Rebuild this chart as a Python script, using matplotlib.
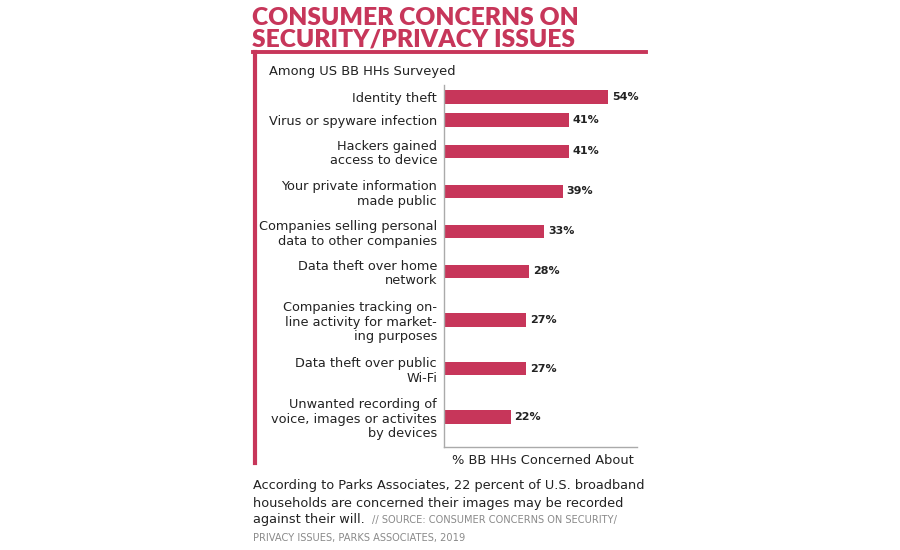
import numpy as np
import matplotlib.pyplot as plt
from matplotlib.lines import Line2D

# data
labels = ["Identity theft",
          "Virus or spyware infection",
          "Hackers gained\naccess to device",
          "Your private information\nmade public",
          "Companies selling personal\ndata to other companies",
          "Data theft over home\nnetwork",
          "Companies tracking on-\nline activity for market-\ning purposes",
          "Data theft over public\nWi-Fi",
          "Unwanted recording of\nvoice, images or activites\nby devices"]
values = [54, 41, 41, 39, 33, 28, 27, 27, 22]

title = "CONSUMER CONCERNS ON\nSECURITY/PRIVACY ISSUES"
subtitle = "Among US BB HHs Surveyed"
xlabel = "% BB HHs Concerned About"
note_lines = ["According to Parks Associates, 22 percent of U.S. broadband",
              "households are concerned their images may be recorded",
              "against their will."]
source1 = "// SOURCE: CONSUMER CONCERNS ON SECURITY/"
source2 = "PRIVACY ISSUES, PARKS ASSOCIATES, 2019"

RED = "#C7365A"
W, H = 900, 550

def fx(px):
    return px / W

def fy(py):
    return 1 - py / H

plt.rcParams['font.family'] = ['DejaVu Sans']
fig = plt.figure(figsize=(9, 5.5), dpi=100)

ax = fig.add_axes([fx(444), fy(447), fx(637) - fx(444), fy(85) - fy(447)])

# row heights grow with number of label lines
nlines = np.array([l.count("\n") + 1 for l in labels])
rowh = 6 + 17 * nlines
ypos = np.cumsum(rowh) - rowh / 2 + 0.5

ax.barh(ypos, values, height=13.5, color=RED)
for y, v in zip(ypos, values):
    ax.text(v + 1.2, y, f"{v}%", va="center", ha="left", fontsize=8,
            fontweight="bold", color="#222222")

ax.set_xlim(0, 63.5)
ax.set_ylim(362, 0)
ax.set_yticks(ypos, labels, fontsize=9.3, color="#222222", linespacing=1.15)
ax.tick_params(axis="y", length=0, pad=5)
ax.set_xticks([])
for s in ["top", "right"]:
    ax.spines[s].set_visible(False)
for s in ["left", "bottom"]:
    ax.spines[s].set_color("#aaaaaa")
    ax.spines[s].set_linewidth(1)

# title and frame
fig.text(fx(252), fy(7), title, ha="left", va="top", fontsize=17.7,
         fontweight="heavy", family="Lato", color=RED, linespacing=0.97)
fig.add_artist(Line2D([fx(253), fx(646)], [fy(52), fy(52)], color=RED, lw=2.8,
                      transform=fig.transFigure))
fig.add_artist(Line2D([fx(255), fx(255)], [fy(52), fy(463)], color=RED, lw=3,
                      transform=fig.transFigure))

fig.text(fx(269), fy(71), subtitle, ha="left", va="center", fontsize=9.4,
         color="#222222")
fig.text(fx(543), fy(460), xlabel, ha="center", va="center", fontsize=9.4,
         color="#222222")

# footer note, one text per line
fig.canvas.draw()
r = fig.canvas.get_renderer()
last = None
for i, line in enumerate(note_lines):
    last = fig.text(fx(253), fy(486 + 17 * i), line, ha="left", va="center",
                    fontsize=9.3, color="#222222")

# source follows the last line of the note
ext = last.get_window_extent(r)
fig.text(fx(ext.x1 + 7), fy(520), source1, ha="left", va="center",
         fontsize=7.1, color="#8a8a8a")
fig.text(fx(253), fy(538), source2, ha="left", va="center", fontsize=7.1,
         color="#8a8a8a")

fig.savefig("out.png", dpi=100, facecolor="white")
